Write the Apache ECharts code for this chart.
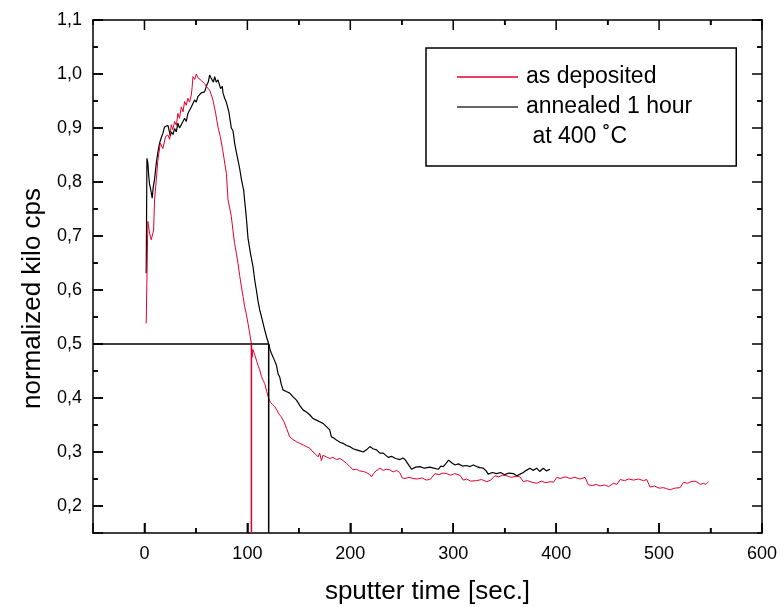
<!DOCTYPE html>
<html>
<head>
<meta charset="utf-8">
<script src="https://cdn.jsdelivr.net/npm/echarts@6/dist/echarts.min.js"></script>
<style>
html,body{margin:0;padding:0;background:#fff;}
#chart{width:781px;height:607px;}
</style>
</head>
<body>
<div id="chart"></div>
<script>
// sputter time [sec.] and normalized kilo cps, "as deposited"
const tAsDeposited = [1.7,3.3,5.0,6.6,8.9,9.8,11.5,13.0,15.4,17.9,20.5,22.7,24.5,26.0,27.5,29.3,31.0,32.5,34.0,35.8,37.5,39.0,40.6,42.2,43.8,45.5,46.3,47.1,48.8,50.4,52.0,53.6,55.2,56.8,58.5,60.1,61.7,63.3,65.0,66.5,67.8,69.2,71.4,73.7,76.3,78.0,79.6,81.2,82.8,84.4,86.0,87.6,89.3,90.9,92.5,94.2,95.8,97.4,99.0,100.6,102.2,103.9,104.5,105.3,106.1,107.5,108.8,110.4,112.0,113.6,115.2,116.8,118.8,120.7,122.5,124.5,126.6,128.5,130.8,133.0,135.5,138.0,141.1,144.4,147.7,150.9,154.2,157.4,160.6,163.8,166.2,168.7,170.3,171.9,173.5,176.7,180.0,183.2,186.5,189.8,193.0,196.3,199.5,202.7,206.0,209.2,212.5,215.7,218.9,220.6,222.5,225.0,228.7,232.0,235.2,238.4,241.6,245.0,248.0,250.5,253.0,257.0,261.0,265.0,269.5,274.1,278.0,282.2,286.0,290.0,293.6,297.5,301.5,306.5,309.7,313.0,317.0,322.8,327.5,332.5,336.5,340.6,344.0,348.0,352.0,356.5,361.0,364.9,368.1,372.0,376.5,381.1,385.5,390.0,394.0,397.5,400.6,404.0,409.0,413.5,418.0,423.0,428.1,431.3,435.0,439.0,442.7,447.0,451.0,455.6,459.0,462.2,466.5,470.5,475.1,480.0,484.8,488.0,491.3,495.5,500.0,504.3,507.5,510.8,515.0,520.5,523.7,527.5,531.0,535.1,538.0,540.0,543.0,545.5,548.0];
const vAsDeposited = [0.538,0.727,0.705,0.693,0.711,0.767,0.804,0.84,0.872,0.862,0.884,0.887,0.879,0.906,0.897,0.912,0.905,0.927,0.918,0.939,0.930,0.949,0.942,0.955,0.948,0.961,0.975,0.995,0.99,1.0,0.993,0.995,0.988,0.989,0.982,0.977,0.975,0.970,0.961,0.952,0.94,0.927,0.902,0.884,0.856,0.835,0.816,0.767,0.752,0.736,0.71,0.686,0.668,0.649,0.627,0.606,0.588,0.569,0.555,0.538,0.52,0.5,0.475,0.49,0.489,0.478,0.47,0.46,0.452,0.44,0.433,0.427,0.412,0.399,0.392,0.388,0.384,0.378,0.37,0.365,0.356,0.344,0.328,0.323,0.319,0.316,0.313,0.31,0.307,0.300,0.296,0.291,0.298,0.284,0.294,0.291,0.288,0.29,0.286,0.288,0.284,0.279,0.273,0.267,0.268,0.265,0.264,0.262,0.258,0.254,0.26,0.265,0.27,0.266,0.268,0.267,0.263,0.266,0.262,0.252,0.251,0.253,0.251,0.25,0.252,0.248,0.25,0.26,0.258,0.261,0.26,0.257,0.26,0.257,0.248,0.25,0.246,0.247,0.249,0.245,0.248,0.256,0.254,0.257,0.256,0.253,0.255,0.254,0.245,0.247,0.244,0.242,0.246,0.243,0.245,0.244,0.253,0.251,0.254,0.251,0.253,0.25,0.253,0.239,0.238,0.24,0.237,0.239,0.236,0.242,0.24,0.249,0.247,0.25,0.248,0.25,0.247,0.249,0.235,0.237,0.233,0.234,0.232,0.230,0.233,0.234,0.244,0.242,0.245,0.246,0.243,0.240,0.242,0.240,0.245];

// "annealed 1 hour at 400 ˚C"
const tAnnealed = [1.7,2.4,3.3,4.2,5.0,5.9,7.5,8.5,9.8,11.5,13.0,14.7,16.3,17.9,19.5,21.2,22.8,24.4,25.2,26.0,27.7,29.3,30.9,32.5,34.1,35.8,37.4,39.0,40.6,42.2,43.9,45.5,47.1,48.7,50.3,51.9,53.5,55.2,56.8,58.4,60.0,60.7,62.0,63.3,64.6,65.9,67.0,68.2,69.8,71.4,72.4,74.0,75.6,76.3,77.9,79.5,81.2,82.0,84.4,86.0,87.6,89.3,90.9,92.5,94.2,95.8,96.4,97.4,98.3,99.5,100.6,103.0,105.5,107.0,108.7,110.3,112.0,114.4,116.8,118.8,120.7,122.0,123.3,125.8,128.2,129.8,131.4,133.0,134.6,137.8,141.1,144.4,147.7,151.0,154.0,157.3,160.6,163.8,167.1,170.3,173.5,176.8,180.0,181.6,184.0,186.6,189.8,193.0,196.3,199.5,202.7,206.0,209.3,212.5,215.7,219.0,222.0,225.5,228.7,232.0,236.8,240.0,244.0,248.3,251.0,253.2,256.0,259.5,263.5,267.6,272.0,277.3,281.0,285.4,288.0,290.3,293.0,295.5,298.5,301.7,305.0,309.0,313.0,316.2,319.5,322.8,326.0,329.2,332.0,334.0,338.0,342.2,346.0,350.0,354.0,358.4,361.7,365.0,368.1,371.0,374.6,377.5,381.1,384.0,387.5,390.5,394.0];
const vAnnealed = [0.631,0.844,0.835,0.81,0.795,0.788,0.77,0.79,0.805,0.835,0.855,0.872,0.882,0.89,0.902,0.904,0.905,0.906,0.885,0.893,0.888,0.899,0.893,0.909,0.9,0.902,0.912,0.918,0.912,0.927,0.925,0.939,0.937,0.952,0.948,0.958,0.957,0.965,0.962,0.967,0.965,0.98,0.985,0.998,0.993,0.992,0.985,0.995,0.985,0.989,0.99,0.973,0.977,0.965,0.955,0.948,0.946,0.93,0.9,0.895,0.872,0.855,0.84,0.825,0.805,0.79,0.785,0.764,0.748,0.722,0.696,0.668,0.643,0.62,0.6,0.58,0.563,0.545,0.526,0.512,0.5,0.49,0.483,0.472,0.461,0.445,0.439,0.425,0.415,0.412,0.409,0.402,0.396,0.386,0.378,0.374,0.369,0.362,0.359,0.356,0.353,0.347,0.341,0.328,0.326,0.322,0.318,0.316,0.312,0.31,0.306,0.304,0.302,0.3,0.304,0.31,0.306,0.304,0.298,0.298,0.29,0.292,0.288,0.286,0.289,0.286,0.278,0.268,0.272,0.273,0.27,0.272,0.27,0.268,0.274,0.273,0.279,0.285,0.28,0.276,0.278,0.274,0.275,0.273,0.276,0.273,0.271,0.27,0.265,0.259,0.262,0.26,0.262,0.258,0.261,0.26,0.256,0.259,0.262,0.266,0.27,0.266,0.27,0.264,0.27,0.265,0.268];

// half-maximum markers
const halfLevel = 0.5;
const halfTimeAsDeposited = 103.9;
const halfTimeAnnealed = 120.7;

// axes
const xMin = -50, xMax = 600, xStep = 100;
const yMin = 0.15, yMax = 1.1, yStep = 0.1;
const xMajorTicks = [0, 100, 200, 300, 400, 500, 600];
const xMinorTicks = [50, 150, 250, 350, 450, 550];
const yMajorTicks = [0.2, 0.3, 0.4, 0.5, 0.6, 0.7, 0.8, 0.9, 1.0, 1.1];
const yMinorTicks = [0.25, 0.35, 0.45, 0.55, 0.65, 0.75, 0.85, 0.95, 1.05];

const seriesNames = ['as deposited', 'annealed 1 hour', ' at 400 ˚C'];
const xTitle = 'sputter time [sec.]';
const yTitle = 'normalized kilo cps';

const FONT = 'Liberation Sans, Arial, Helvetica, sans-serif';
const RED = '#e4002b';
const BLACK = '#000000';

// layout
const W = 781, H = 607;
const GRID = { left: 93, right: 19, top: 20, bottom: 74 };
const MAJOR_LEN = 10, MINOR_LEN = 5; // px

function zip(a, b) { return a.map((t, i) => [t, b[i]]); }

const lineSt = { color: '#000', width: 1.5 };

function frameAxis(kind, pos) {
  const isX = kind === 'x';
  return {
    type: 'value', position: pos,
    min: isX ? xMin : yMin, max: isX ? xMax : yMax, interval: isX ? xStep : yStep,
    axisLine: { show: true, onZero: false, lineStyle: lineSt },
    axisTick: { show: true, inside: true, length: 5, lineStyle: lineSt },
    axisLabel: { show: false },
    splitLine: { show: false }
  };
}
// Label axes: reversed copies measured from the far end, so labels land on 0,100,... / 0.2,0.3,...
function labelAxis(kind, pos) {
  const isX = kind === 'x';
  const span = isX ? (xMax - xMin) : (yMax - yMin);
  const top = isX ? xMax : yMax;
  return {
    type: 'value', position: pos, inverse: true,
    min: 0, max: +span.toFixed(6), interval: isX ? xStep : yStep,
    axisLine: { show: false, onZero: false },
    axisTick: { show: true, inside: true, length: 10, lineStyle: lineSt },
    axisLabel: {
      show: true, margin: isX ? 12 : 11,
      fontFamily: FONT, fontSize: 18, color: '#000',
      formatter: v => {
        if (Math.abs(v - span) < 1e-6) return '';
        const real = top - v;
        return isX ? String(Math.round(real)) : real.toFixed(1).replace('.', ',');
      }
    },
    splitLine: { show: false }
  };
}

const xAxes = [frameAxis('x', 'bottom'), labelAxis('x', 'bottom'), frameAxis('x', 'top')];
const yAxes = [frameAxis('y', 'left'), labelAxis('y', 'left'), frameAxis('y', 'right')];
Object.assign(xAxes[0], { name: xTitle, nameLocation: 'middle', nameGap: 46,
  nameTextStyle: { fontFamily: FONT, fontSize: 26, color: '#000' } });
Object.assign(yAxes[0], { name: yTitle, nameLocation: 'middle', nameGap: 47,
  nameTextStyle: { fontFamily: FONT, fontSize: 26, color: '#000', padding: [0, 44, 0, 0] } });

// Tick marks on all four sides as short line segments (breaks between them),
// placed on the tick values; lengths converted from pixels to axis units.
const xUnitsPerPx = (xMax - xMin) / (W - GRID.left - GRID.right);
const yUnitsPerPx = (yMax - yMin) / (H - GRID.top - GRID.bottom);
const BREAK = ['-', '-'];
function tickSegments() {
  const out = [];
  const addX = (v, len) => {
    const d = len * yUnitsPerPx;
    out.push([v, yMin], [v, yMin + d], BREAK, [v, yMax], [v, yMax - d], BREAK);
  };
  const addY = (v, len) => {
    const d = len * xUnitsPerPx;
    out.push([xMin, v], [xMin + d, v], BREAK, [xMax, v], [xMax - d, v], BREAK);
  };
  xMajorTicks.forEach(v => addX(v, MAJOR_LEN));
  xMinorTicks.forEach(v => addX(v, MINOR_LEN));
  yMajorTicks.forEach(v => addY(v, MAJOR_LEN));
  yMinorTicks.forEach(v => addY(v, MINOR_LEN));
  return out;
}

const chart = echarts.init(document.getElementById('chart'));
chart.setOption({
  backgroundColor: '#fff',
  animation: false,
  grid: Object.assign({ containLabel: false, outerBoundsMode: 'none' }, GRID),
  xAxis: xAxes,
  yAxis: yAxes,
  legend: {
    orient: 'vertical', left: 426, top: 48,
    padding: [14, 44, 14, 31],
    borderColor: '#000', borderWidth: 1.5,
    icon: 'rect', itemWidth: 61, itemHeight: 1.5, itemGap: 0,
    selectedMode: false,
    textStyle: { fontFamily: FONT, fontSize: 23, color: '#000', lineHeight: 30, padding: [0, 0, 0, 3] },
    data: seriesNames
  },
  series: [
    { name: 'frame ticks', type: 'line', data: tickSegments(), symbol: 'none', connectNulls: false,
      clip: false, silent: true, lineStyle: { color: BLACK, width: 1.5 } },
    { name: seriesNames[1], type: 'line', data: zip(tAnnealed, vAnnealed), symbol: 'none',
      lineStyle: { color: BLACK, width: 1.2 }, itemStyle: { color: '#333' } },
    { name: seriesNames[0], type: 'line', data: zip(tAsDeposited, vAsDeposited), symbol: 'none',
      lineStyle: { color: RED, width: 1 }, itemStyle: { color: RED } },
    { name: seriesNames[2], type: 'line', data: [], symbol: 'none',
      lineStyle: { color: 'rgba(0,0,0,0)', width: 0 }, itemStyle: { color: 'rgba(0,0,0,0)' } },
    { name: 'half level', type: 'line', data: [[xMin, halfLevel], [halfTimeAnnealed, halfLevel]], symbol: 'none',
      lineStyle: { color: BLACK, width: 1.5 } },
    { name: 'half red', type: 'line', data: [[halfTimeAsDeposited, yMin], [halfTimeAsDeposited, halfLevel]], symbol: 'none',
      lineStyle: { color: RED, width: 1.5 } },
    { name: 'half black', type: 'line', data: [[halfTimeAnnealed, yMin], [halfTimeAnnealed, halfLevel]], symbol: 'none',
      lineStyle: { color: BLACK, width: 1.5 } }
  ]
});
</script>
</body>
</html>
